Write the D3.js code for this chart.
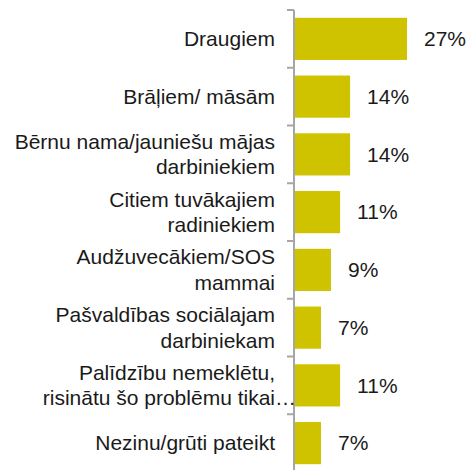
<!DOCTYPE html>
<html>
<head>
<meta charset="utf-8">
<script src="https://cdn.jsdelivr.net/npm/d3@7"></script>
<style>
  body { margin: 0; background: #fff; }
  text { font-family: "Liberation Sans", Arial, sans-serif; fill: #1a1a1a; }
</style>
</head>
<body>
<svg id="chart" width="469" height="470"></svg>
<script>
// categories, each one split into its display lines
let categories = [
    ["Draugiem"],
    ["Brāļiem/ māsām"],
    ["Bērnu nama/jauniešu mājas", "darbiniekiem"],
    ["Citiem tuvākajiem", "radiniekiem"],
    ["Audžuvecākiem/SOS", "mammai"],
    ["Pašvaldības sociālajam", "darbiniekam"],
    ["Palīdzību nemeklētu,", "risinātu šo problēmu tikai…"],
    ["Nezinu/grūti pateikt"]
];
// share of answers, %
let values = [27.2, 13.5, 13.5, 11.1, 8.9, 6.5, 11.1, 6.5];
// labels as printed next to the bars
let valueLabels = ["27%", "14%", "14%", "11%", "9%", "7%", "11%", "7%"];

let svg = d3.select("#chart");
let axisX = 294;

let y = d3.scaleBand()
    .domain(d3.range(categories.length))
    .range([10, 472])
    .paddingInner(0.27)
    .paddingOuter(0.135);

let x = d3.scaleLinear()
    .domain([0, 27.2])
    .range([axisX, 407]);

// bars
svg.selectAll("rect.bar")
    .data(values)
    .enter().append("rect")
    .attr("class", "bar")
    .attr("x", x(0))
    .attr("y", (d, i) => y(i))
    .attr("width", d => x(d) - x(0))
    .attr("height", y.bandwidth())
    .attr("fill", "#cfc300");

// axis line with ticks between categories
let step = y.step();
let tickYs = d3.range(categories.length + 1).map(i => y.range()[0] + i * step);
svg.append("line")
    .attr("x1", axisX).attr("x2", axisX)
    .attr("y1", tickYs[0]).attr("y2", 470)
    .attr("stroke", "#a6a6a6").attr("stroke-width", 2);
svg.selectAll("line.tick")
    .data(tickYs)
    .enter().append("line")
    .attr("class", "tick")
    .attr("x1", axisX - 7).attr("x2", axisX)
    .attr("y1", d => d).attr("y2", d => d)
    .attr("stroke", "#a6a6a6").attr("stroke-width", 2);

// value labels
svg.selectAll("text.val")
    .data(values)
    .enter().append("text")
    .attr("class", "val")
    .attr("x", d => x(d) + 17)
    .attr("y", (d, i) => y(i) + y.bandwidth() / 2)
    .attr("dy", "0.35em")
    .attr("font-size", 21)
    .text((d, i) => valueLabels[i]);

// category labels, right aligned before the axis
let lineH = 25.5;
let labelX = 275;
categories.forEach((lines, i) => {
    let cy = y(i) + y.bandwidth() / 2;
    let top = cy - (lines.length - 1) * lineH / 2;
    lines.forEach((ln, j) => {
        let ty = top + j * lineH;
        let cut = ln.endsWith("…");
        svg.append("text")
            .attr("x", labelX)
            .attr("y", ty)
            .attr("dy", "0.35em")
            .attr("text-anchor", "end")
            .attr("font-size", 21)
            .text(cut ? ln.slice(0, -1) : ln);
        // the ellipsis overflows past the label edge
        if (cut) {
            svg.append("text")
                .attr("x", labelX)
                .attr("y", ty)
                .attr("dy", "0.35em")
                .attr("font-size", 21)
                .text("…");
        }
    });
});
</script>
</body>
</html>
